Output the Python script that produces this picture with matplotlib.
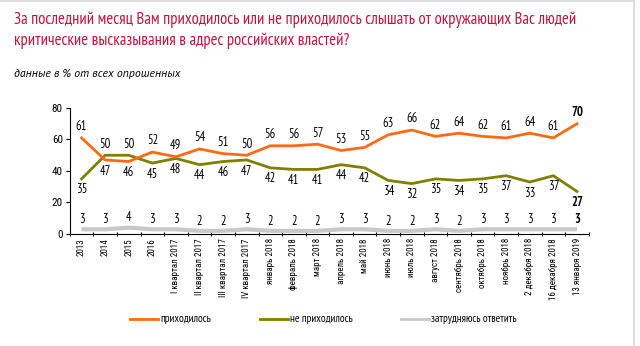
"""Line chart: hearing criticism of the Russian authorities, survey shares."""

import matplotlib
matplotlib.use("Agg")
import matplotlib.pyplot as plt
import numpy as np

plt.rcParams["font.family"] = ["PT Sans Narrow", "DejaVu Sans"]
TICK_FONT = ["Roboto Condensed", "DejaVu Sans"]

periods = [
    "2013", "2014", "2015", "2016",
    "I квартал 2017", "II квартал 2017", "III квартал 2017", "IV квартал 2017",
    "январь 2018", "февраль 2018", "март 2018", "апрель 2018", "май 2018",
    "июнь 2018", "июль 2018", "август 2018", "сентябрь 2018", "октябрь 2018",
    "ноябрь 2018", "2 декабря 2018", "16 декабря 2018", "13 января 2019",
]
heard = [61, 47, 46, 52, 49, 54, 51, 50, 56, 56, 57, 53, 55, 63, 66, 62, 64, 62, 61, 64, 61, 70]
not_heard = [35, 50, 50, 45, 48, 44, 46, 47, 42, 41, 41, 44, 42, 34, 32, 35, 34, 35, 37, 33, 37, 27]
hard_to_say = [3, 3, 4, 3, 3, 2, 2, 3, 2, 2, 2, 3, 3, 2, 2, 3, 2, 3, 3, 3, 3, 3]

ORANGE = "#ff6a13"
OLIVE = "#7f7f00"
GREY = "#c8c8c8"
TITLE_RED = "#c0143c"

fig = plt.figure(figsize=(6.4, 3.46), dpi=100)
ax = fig.add_axes([0.109, 0.3237, 0.811, 0.3642])

x = np.arange(len(periods))
ax.plot(x, hard_to_say, color=GREY, lw=3.0, solid_capstyle="butt")
ax.plot(x, not_heard, color=OLIVE, lw=2.0)
ax.plot(x, heard, color=ORANGE, lw=2.0)

last = len(periods) - 1
for i in x:
    weight = "bold" if i == last else "normal"
    # the higher of the two main series gets its label above the line
    up_heard = heard[i] >= not_heard[i]
    ax.annotate(str(heard[i]), (i, heard[i]), xytext=(0, 8 if up_heard else -8),
                textcoords="offset points", ha="center", va="center",
                fontsize=9, fontweight=weight)
    ax.annotate(str(not_heard[i]), (i, not_heard[i]), xytext=(0, -8 if up_heard else 8),
                textcoords="offset points", ha="center", va="center",
                fontsize=9, fontweight=weight)
    ax.annotate(str(hard_to_say[i]), (i, hard_to_say[i]), xytext=(0, 7),
                textcoords="offset points", ha="center", va="center",
                fontsize=9, fontweight=weight)

ax.set_xlim(-0.5, last + 0.5)
ax.set_ylim(0, 80)
ax.set_yticks([0, 20, 40, 60, 80])
ax.tick_params(axis="y", labelsize=8, length=3, width=0.8, pad=2)
for lbl in ax.get_yticklabels():
    lbl.set_family(TICK_FONT)

ax.set_xticks(x)
ax.set_xticklabels(periods, rotation=90, fontsize=6.5, va="top", family=TICK_FONT)
ax.set_xticks(np.arange(-0.5, last + 1), minor=True)
ax.tick_params(axis="x", which="major", length=0, pad=3)
ax.tick_params(axis="x", which="minor", length=3, width=0.8, direction="inout")

for side in ("top", "right"):
    ax.spines[side].set_visible(False)
for side in ("left", "bottom"):
    ax.spines[side].set_linewidth(0.8)

fig.text(0.022, 0.942, "За последний месяц Вам приходилось или не приходилось слышать от окружающих Вас людей",
         color=TITLE_RED, fontsize=11.9, va="center")
fig.text(0.022, 0.882, "критические высказывания в адрес российских властей?",
         color=TITLE_RED, fontsize=11.9, va="center")
fig.text(0.022, 0.788, "данные в % от всех опрошенных", fontsize=8.5, style="italic",
         va="center", family=["PT Sans", "DejaVu Sans"])

# legend drawn by hand in figure pixels
legend_items = [("приходилось", ORANGE, 130), ("не приходилось", OLIVE, 260),
                ("затрудняюсь ответить", GREY, 401)]
ly = 346 - 319
for label, color, x0 in legend_items:
    fig.add_artist(plt.Line2D([x0 / 640, (x0 + 28) / 640], [ly / 346, ly / 346],
                              color=color, lw=2.0, transform=fig.transFigure))
    fig.text((x0 + 30) / 640, ly / 346, label, fontsize=8, va="center")

# thin frame along the top and right edge
fig.add_artist(plt.Line2D([0, 634 / 640], [0.997, 0.997], color="#d8d8d8", lw=1.2,
                          transform=fig.transFigure))
fig.add_artist(plt.Line2D([634 / 640, 634 / 640], [0, 1], color="#d8d8d8", lw=1.2,
                          transform=fig.transFigure))

fig.savefig("out.png", dpi=100, facecolor="white")
